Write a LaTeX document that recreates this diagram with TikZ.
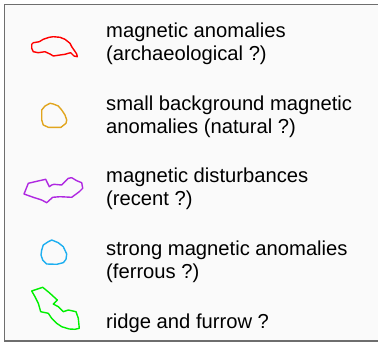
\documentclass[tikz,border=0pt]{standalone}
\usepackage{fontspec}
\setmainfont{Liberation Sans}
\definecolor{frameline}{RGB}{110,110,110}
\definecolor{panel}{RGB}{250,250,250}
\definecolor{archred}{RGB}{255,0,0}
\definecolor{natorange}{RGB}{225,165,30}
\definecolor{recpurple}{RGB}{175,40,225}
\definecolor{ferrcyan}{RGB}{30,175,240}
\definecolor{ridgegreen}{RGB}{0,240,0}
\tikzset{
  outline/.style={line width=1.4pt, line join=round},
  % anchored at the baseline of the last line
  legendtext/.style={anchor=base west, align=left, inner sep=0pt,
    font=\fontsize{20.2}{23.5}\selectfont, text=black}
}
\begin{document}
\begin{tikzpicture}[x=1pt,y=-1pt]
\useasboundingbox (0,0) rectangle (378,343);
% legend panel (right side runs off the page)
\draw[frameline, line width=1.6pt, fill=panel] (4.5,4.5) rectangle (385,341);

% symbols
\draw[outline, archred] plot coordinates {(31.7,44.3) (33.3,42.7) (39.3,41.7) (43.3,39.3) (49.3,37.3) (53.3,36.7) (60,37.3) (65,39.3) (70,43.3) (71.7,46.7) (74,50) (76.7,54) (77.3,56.7) (74,56) (70.7,52.7) (68.3,53.3) (65,54.3) (60,55) (53.3,56) (50,54) (45,51.7) (38.3,52.7) (33.3,51.7) (31.7,48.3)} -- cycle;

\draw[outline, natorange] plot coordinates {(41.7,110) (45,106) (50,103.3) (53.3,104) (58.3,106) (61.7,110) (65,115) (66.7,120) (66,123.3) (61,127.3) (48.3,127.3) (43.3,125) (41.7,120)} -- cycle;

\draw[outline, recpurple] plot coordinates {(24,194) (28.3,183.3) (35,181.7) (45.7,179.3) (49.3,186.7) (51.7,185) (54,184.3) (61.7,185) (68.3,178.3) (71.7,177.7) (76.7,180.7) (81.7,182.7) (82.7,188.3) (79.3,191.7) (71.7,197.3) (60,196.7) (52.7,197.3) (46.7,202.7) (41.7,200) (33.3,197.3)} -- cycle;

\draw[outline, ferrcyan] plot coordinates {(41.7,250) (43.3,245) (48.3,241.7) (51.7,240) (58.3,242.7) (63.3,246.7) (66.7,254) (66,259.3) (63.3,262.7) (56.7,264.3) (46.7,264) (42.7,260) (41,255)} -- cycle;

\draw[outline, ridgegreen] plot coordinates {(31.7,291) (42.7,287.3) (49.3,292.7) (57.3,300) (53.3,304) (58.3,306.7) (63.3,311.7) (68.3,310) (76,311.7) (78.3,318.3) (79.3,328.3) (75,329.3) (69.3,329) (61.7,326.7) (56.7,323.3) (51.7,318.3) (48.3,313.3) (40.7,311.7) (38.3,303.3) (35,296.7)} -- cycle;

% labels
\node[legendtext] (arch) at (106,60.5) {magnetic anomalies\\(archaeological ?)};
\node[legendtext] (nat) at (106,133.5) {small background magnetic\\anomalies (natural ?)};
\node[legendtext] (rec) at (106,205.5) {magnetic disturbances\\(recent ?)};
\node[legendtext] (ferr) at (106,278.5) {strong magnetic anomalies\\(ferrous ?)};
\node[legendtext] (ridge) at (106,328) {ridge and furrow ?};
\end{tikzpicture}
\end{document}
